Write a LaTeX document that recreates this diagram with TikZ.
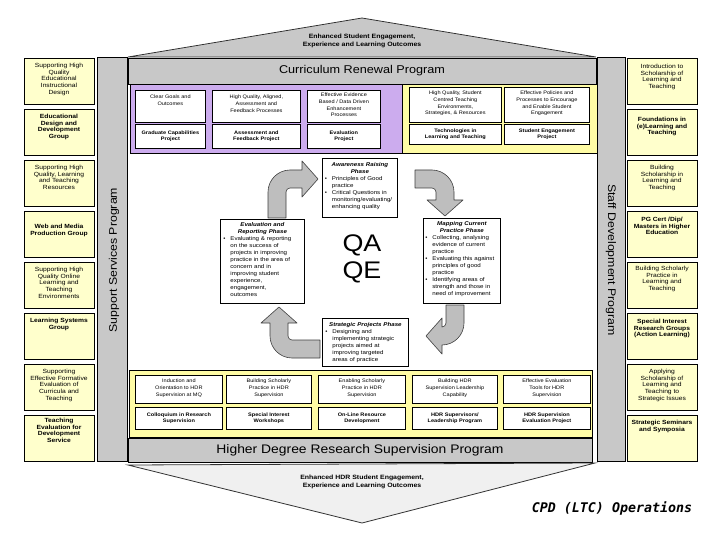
\documentclass[tikz,border=0pt]{standalone}
\usepackage{fontspec}
\setmainfont{Liberation Sans}[FakeStretch=1.12]
\newfontfamily\cpdfont{DejaVu Sans Mono}
\definecolor{barGray}{RGB}{200,200,200}
\definecolor{sideY}{RGB}{255,255,204}
\definecolor{purp}{RGB}{204,172,238}
\definecolor{yelReg}{RGB}{255,252,165}
\definecolor{arrGray}{RGB}{190,190,190}
\begin{document}
\begin{tikzpicture}[x=1pt,y=-1pt,
  sidebox/.style={draw=black, line width=0.7pt, fill=sideY, minimum width=70pt, minimum height=46pt, inner sep=0pt, anchor=north},
  sidetxt/.style={anchor=north, align=center, inner sep=0pt, font=\fontsize{6}{6.7}\selectfont},
  sidebold/.style={sidetxt, font=\fontsize{6}{6.7}\selectfont\bfseries},
  graybar/.style={draw=black, line width=0.8pt, fill=barGray, inner sep=0pt},
  cellbox/.style={draw=black, line width=0.8pt, fill=white, inner sep=0pt, anchor=north west},
  celltxt/.style={anchor=north, align=center, inner sep=0pt, font=\fontsize{5}{6.6}\selectfont},
  cellbold/.style={align=center, inner sep=0pt, font=\fontsize{5}{6.6}\selectfont\bfseries},
  phasebox/.style={draw=black, line width=0.8pt, fill=white, inner sep=0pt, anchor=north west},
  phasetxt/.style={anchor=north, align=left, inner sep=0pt, font=\fontsize{5.5}{7}\selectfont},
  arrowshape/.style={fill=arrGray, draw=black!75, line width=0.6pt, line join=round},
  rooftxt/.style={align=center, inner sep=0pt, font=\fontsize{6.2}{7.2}\selectfont\bfseries}
]
\newcommand{\bl}[1]{\hangindent=7pt\hangafter=1\noindent\makebox[7pt][l]{\textbullet}#1\par}
\newcommand{\ttl}[1]{{\centering\bfseries\itshape #1\par}}
\useasboundingbox (0,0) rectangle (720,540);
\fill[white] (0,0) rectangle (720,540);

% ---- top roof
\filldraw[fill=barGray, draw=black!80, line width=0.8pt] (128,57) -- (362,18) -- (596,57) -- cycle;
\node[rooftxt] (rooftop) at (362,41) {Enhanced Student Engagement,\\Experience and Learning Outcomes};

% ---- side gray columns
\node[graybar, minimum width=30pt, minimum height=404pt] (ssp) at (112,259) {};
\node[rotate=90, inner sep=0pt, font=\fontsize{11}{13}\selectfont] (ssptxt) at (114,260) {Support Services Program};
\node[graybar, minimum width=28pt, minimum height=404pt] (sdp) at (611,259) {};
\node[rotate=-90, inner sep=0pt, font=\fontsize{11}{13}\selectfont] (sdptxt) at (611,260) {Staff Development Program};

% ---- curriculum renewal bar
\node[graybar, minimum width=468pt, minimum height=26pt, font=\fontsize{11.3}{13}\selectfont] (crp) at (362,71) {Curriculum Renewal Program};

% ---- purple and yellow regions (top)
\node[draw=black, line width=0.8pt, fill=purp, minimum width=272pt, minimum height=69pt, anchor=north west, inner sep=0pt] (purpreg) at (130,84) {};
\node[draw=black, line width=0.8pt, fill=yelReg, minimum width=195pt, minimum height=69pt, anchor=north west, inner sep=0pt] (yelreg) at (402,84) {};

% top row cells
\node[cellbox, minimum width=70pt, minimum height=32pt] (c1) at (135,90) {};
\node[celltxt] (c1t) at ([yshift=-5pt]c1.north) {Clear Goals and\\Outcomes};
\node[cellbox, minimum width=88pt, minimum height=32pt] (c2) at (212,90) {};
\node[celltxt] (c2t) at ([yshift=-5pt]c2.north) {High Quality, Aligned,\\Assessment and\\Feedback Processes};
\node[cellbox, minimum width=73pt, minimum height=32pt] (c3) at (307,90) {};
\node[celltxt] (c3t) at ([yshift=-3pt]c3.north) {Effective Evidence\\Based / Data Driven\\Enhancement\\Processes};
\node[cellbox, minimum width=92pt, minimum height=35pt] (c4) at (409,87) {};
\node[celltxt] (c4t) at ([yshift=-4pt]c4.north) {High Quality, Student\\Centred Teaching\\Environments,\\Strategies, \& Resources};
\node[cellbox, minimum width=85pt, minimum height=35pt] (c5) at (504,87) {};
\node[celltxt] (c5t) at ([yshift=-4pt]c5.north) {Effective Policies and\\Processes to Encourage\\and Enable Student\\Engagement};
% bottom row cells
\node[cellbox, minimum width=70pt, minimum height=24pt] (d1) at (135,124) {};
\node[cellbold] (d1t) at (d1.center) {Graduate Capabilities\\Project};
\node[cellbox, minimum width=88pt, minimum height=24pt] (d2) at (212,124) {};
\node[cellbold] (d2t) at (d2.center) {Assessment and\\Feedback Project};
\node[cellbox, minimum width=73pt, minimum height=24pt] (d3) at (307,124) {};
\node[cellbold] (d3t) at (d3.center) {Evaluation\\Project};
\node[cellbox, minimum width=92pt, minimum height=20pt] (d4) at (409,124) {};
\node[cellbold] (d4t) at (d4.center) {Technologies in\\Learning and Teaching};
\node[cellbox, minimum width=85pt, minimum height=20pt] (d5) at (504,124) {};
\node[cellbold] (d5t) at (d5.center) {Student Engagement\\Project};

% ---- left boxes
\node[sidebox] (L1) at (59,58) {};
\node[sidetxt] (L1t) at ([yshift=-5pt]L1.north) {Supporting High\\Quality\\Educational\\Instructional\\Design};
\node[sidebox] (L2) at (59,109) {};
\node[sidebold] (L2t) at ([yshift=-5pt]L2.north) {Educational\\Design and\\Development\\Group};
\node[sidebox] (L3) at (59,160) {};
\node[sidetxt] (L3t) at ([yshift=-5pt]L3.north) {Supporting High\\Quality, Learning\\and Teaching\\Resources};
\node[sidebox] (L4) at (59,211) {};
\node[sidebold] (L4t) at ([yshift=-13pt]L4.north) {Web and Media\\Production Group};
\node[sidebox] (L5) at (59,262) {};
\node[sidetxt] (L5t) at ([yshift=-5pt]L5.north) {Supporting High\\Quality Online\\Learning and\\Teaching\\Environments};
\node[sidebox] (L6) at (59,313) {};
\node[sidebold] (L6t) at ([yshift=-5pt]L6.north) {Learning Systems\\Group};
\node[sidebox] (L7) at (59,364) {};
\node[sidetxt] (L7t) at ([yshift=-5pt]L7.north) {Supporting\\Effective Formative\\Evaluation of\\Curricula and\\Teaching};
\node[sidebox] (L8) at (59,415) {};
\node[sidebold] (L8t) at ([yshift=-3pt]L8.north) {Teaching\\Evaluation for\\Development\\Service};

% ---- right boxes
\node[sidebox] (R1) at (662,58) {};
\node[sidetxt] (R1t) at ([yshift=-6pt]R1.north) {Introduction to\\Scholarship of\\Learning and\\Teaching};
\node[sidebox] (R2) at (662,109) {};
\node[sidebold] (R2t) at ([yshift=-8pt]R2.north) {Foundations in\\(e)Learning and\\Teaching};
\node[sidebox] (R3) at (662,160) {};
\node[sidetxt] (R3t) at ([yshift=-5pt]R3.north) {Building\\Scholarship in\\Learning and\\Teaching};
\node[sidebox] (R4) at (662,211) {};
\node[sidebold] (R4t) at ([yshift=-6pt]R4.north) {PG Cert /Dip/\\Masters in Higher\\Education};
\node[sidebox] (R5) at (662,262) {};
\node[sidetxt] (R5t) at ([yshift=-4pt]R5.north) {Building Scholarly\\Practice in\\Learning and\\Teaching};
\node[sidebox] (R6) at (662,313) {};
\node[sidebold] (R6t) at ([yshift=-6pt]R6.north) {Special Interest\\Research Groups\\(Action Learning)};
\node[sidebox] (R7) at (662,364) {};
\node[sidetxt] (R7t) at ([yshift=-5pt]R7.north) {Applying\\Scholarship of\\Learning and\\Teaching to\\Strategic Issues};
\node[sidebox] (R8) at (662,415) {};
\node[sidebold] (R8t) at ([yshift=-5pt]R8.north) {Strategic Seminars\\and Symposia};

% ---- central cycle
\filldraw[arrowshape] (268,218) -- (268,192) .. controls (268,179.9) and (277.9,170) .. (290,170) -- (302,170) -- (302,161) -- (318,179) -- (302,197) -- (302,188) -- (290,188) .. controls (287.8,188) and (286,189.8) .. (286,192) -- (286,218) -- cycle;
\filldraw[arrowshape] (415,170) -- (432,170) .. controls (444.1,170) and (454,179.9) .. (454,192) -- (454,200) -- (463,200) -- (445,216) -- (427,200) -- (436,200) -- (436,192) .. controls (436,189.8) and (434.2,188) .. (432,188) -- (415,188) -- cycle;
\filldraw[arrowshape] (446,305) -- (464,305) -- (464,323) .. controls (464,335.1) and (454.1,345) .. (442,345) -- (442,354) -- (426,336) -- (442,318) -- (442,327) .. controls (444.2,327) and (446,325.2) .. (446,323) -- cycle;
\filldraw[arrowshape] (320,340) -- (320,358) -- (292,358) .. controls (279.9,358) and (270,348.1) .. (270,336) -- (270,323) -- (261,323) -- (279,307) -- (297,323) -- (288,323) -- (288,336) .. controls (288,338.2) and (289.8,340) .. (292,340) -- cycle;

\node[phasebox, minimum width=75pt, minimum height=59pt] (aware) at (322,158) {};
\node[phasetxt, text width=70pt] (awaret) at ([yshift=-4pt]aware.north) {\ttl{Awareness Raising\\Phase}\bl{Principles of Good\newline practice}\bl{Critical Questions in\newline monitoring/evaluating/\newline enhancing quality}};

\node[phasebox, minimum width=84pt, minimum height=84pt] (evalb) at (220,219) {};
\node[phasetxt, text width=78pt] (evalt) at ([yshift=-3pt]evalb.north) {\ttl{Evaluation and\\Reporting Phase}\bl{Evaluating \& reporting\newline on the success of\newline projects in improving\newline practice in the area of\newline concern and in\newline improving student\newline experience,\newline engagement,\newline outcomes}};

\node[phasebox, minimum width=77pt, minimum height=85pt] (mapb) at (423,218) {};
\node[phasetxt, text width=73pt] (mapt) at ([yshift=-3pt]mapb.north) {\ttl{Mapping Current\\Practice Phase}\bl{Collecting, analysing\newline evidence of current\newline practice}\bl{Evaluating this against\newline principles of good\newline practice}\bl{Identifying areas of\newline strength and those in\newline need of improvement}};

\node[phasebox, minimum width=86pt, minimum height=48pt] (stratb) at (322,318) {};
\node[phasetxt, text width=80pt] (stratt) at ([yshift=-4pt]stratb.north) {\ttl{Strategic Projects Phase}\bl{Designing and\newline implementing strategic\newline projects aimed at\newline improving targeted\newline areas of practice}};

\node[align=center, inner sep=0pt, font=\fontsize{24}{27}\selectfont] (qaqe) at (362,259) {QA\\QE};

% ---- bottom yellow region
\node[draw=black, line width=0.8pt, fill=yelReg, minimum width=463pt, minimum height=67pt, anchor=north west, inner sep=0pt] (botreg) at (129,370) {};
\node[cellbox, minimum width=87pt, minimum height=28pt] (e1) at (135,375) {};
\node[celltxt] (e1t) at ([yshift=-4pt]e1.north) {Induction and\\Orientation to HDR\\Supervision at MQ};
\node[cellbox, minimum width=85pt, minimum height=28pt] (e2) at (226,375) {};
\node[celltxt] (e2t) at ([yshift=-4pt]e2.north) {Building Scholarly\\Practice in HDR\\Supervision};
\node[cellbox, minimum width=87pt, minimum height=28pt] (e3) at (318,375) {};
\node[celltxt] (e3t) at ([yshift=-4pt]e3.north) {Enabling Scholarly\\Practice in HDR\\Supervision};
\node[cellbox, minimum width=85pt, minimum height=28pt] (e4) at (412,375) {};
\node[celltxt] (e4t) at ([yshift=-4pt]e4.north) {Building HDR\\Supervision Leadership\\Capability};
\node[cellbox, minimum width=87pt, minimum height=28pt] (e5) at (503,375) {};
\node[celltxt] (e5t) at ([yshift=-4pt]e5.north) {Effective Evaluation\\Tools for HDR\\Supervision};
\node[cellbox, minimum width=87pt, minimum height=22pt] (f1) at (135,407) {};
\node[cellbold] (f1t) at (f1.center) {Colloquium in Research\\Supervision};
\node[cellbox, minimum width=85pt, minimum height=22pt] (f2) at (226,407) {};
\node[cellbold] (f2t) at (f2.center) {Special Interest\\Workshops};
\node[cellbox, minimum width=87pt, minimum height=22pt] (f3) at (318,407) {};
\node[cellbold] (f3t) at (f3.center) {On-Line Resource\\Development};
\node[cellbox, minimum width=85pt, minimum height=22pt] (f4) at (412,407) {};
\node[cellbold] (f4t) at (f4.center) {HDR Supervisors/\\Leadership Program};
\node[cellbox, minimum width=87pt, minimum height=22pt] (f5) at (503,407) {};
\node[cellbold] (f5t) at (f5.center) {HDR Supervision\\Evaluation Project};

\node[graybar, minimum width=464pt, minimum height=24pt, font=\fontsize{12.4}{14}\selectfont] (hdr) at (360,450) {Higher Degree Research Supervision Program};

% ---- bottom roof
\filldraw[fill=black!6, draw=black!80, line width=0.8pt] (128,465) -- (362,523) -- (595,463) -- cycle;
\node[rooftxt] (roofbot) at (362,482) {Enhanced HDR Student Engagement,\\Experience and Learning Outcomes};

\node[inner sep=0pt, font=\cpdfont\fontsize{13.3}{15}\selectfont\bfseries\itshape] (cpd) at (612,508) {CPD (LTC) Operations};
\end{tikzpicture}
\end{document}
